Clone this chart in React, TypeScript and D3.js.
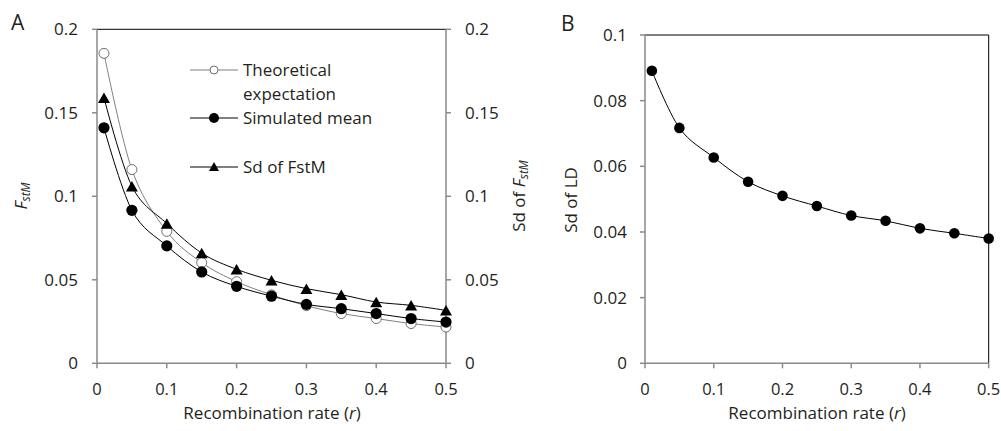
import React from "react";
import * as d3 from "d3";

const recombRates = [0.01, 0.05, 0.1, 0.15, 0.2, 0.25, 0.3, 0.35, 0.4, 0.45, 0.5];
const theoretical = [0.1856, 0.116, 0.079, 0.0603, 0.0489, 0.041, 0.0345, 0.0298, 0.0268, 0.0238, 0.0217];
const simulatedMean = [0.141, 0.0916, 0.0703, 0.0547, 0.0461, 0.0402, 0.0353, 0.0327, 0.0298, 0.0268, 0.0247];
const sdFstM = [0.159, 0.106, 0.0837, 0.066, 0.0563, 0.0497, 0.0447, 0.0411, 0.0367, 0.0347, 0.0317];
const sdLD = [0.0891, 0.0717, 0.0627, 0.0553, 0.051, 0.0479, 0.045, 0.0434, 0.0411, 0.0396, 0.038];

const xTicks = [0, 0.1, 0.2, 0.3, 0.4, 0.5];
const yTicksA = [0, 0.05, 0.1, 0.15, 0.2];
const yTicksB = [0, 0.02, 0.04, 0.06, 0.08, 0.1];

const FONT = "'Open Sans', Lato, sans-serif";
const TXT = "#231f20";
const AXIS = "#8a8a8a";
const FS = 17;
const XFS = 16.5;

function fmt(v: number) {
  if (v === 0) return "0";
  return String(+v.toFixed(3));
}

function triPath(cx: number, cy: number, w: number, h: number) {
  return `M${cx},${cy - h / 2}L${cx + w / 2},${cy + h / 2}L${cx - w / 2},${cy + h / 2}Z`;
}

export default function App() {
  // Panel A geometry
  const aL = 97, aR = 446, aT = 29.3, aB = 363.3;
  const xA = d3.scaleLinear().domain([0, 0.5]).range([aL, aR]);
  const yA = d3.scaleLinear().domain([0, 0.2]).range([aB, aT]);
  // Panel B geometry
  const bL = 645, bR = 988.7, bT = 35, bB = 363.3;
  const xB = d3.scaleLinear().domain([0, 0.5]).range([bL, bR]);
  const yB = d3.scaleLinear().domain([0, 0.1]).range([bB, bT]);

  const curve = d3.curveCatmullRom.alpha(0);
  const lineA = (vals: number[]) =>
    d3.line<number>().x((_, i) => xA(recombRates[i])).y((d) => yA(d)).curve(curve)(vals) || "";
  const lineB = (vals: number[]) =>
    d3.line<number>().x((_, i) => xB(recombRates[i])).y((d) => yB(d)).curve(curve)(vals) || "";

  const capHalf = FS * 0.36;
  const xTickY = 395;
  const xTitleY = 418.5;

  return (
    <div style={{ position: "absolute", left: 0, top: 0 }}>
      <svg width={1001} height={431} style={{ display: "block", background: "#fff" }} fontFamily={FONT}>
        <rect x={0} y={0} width={1001} height={431} fill="#fff" />
        {/* ===== Panel A ===== */}
        <text x={11} y={30} fontSize={21} fill={TXT}>A</text>
        {/* frame */}
        <line x1={aL} x2={aR} y1={aT} y2={aT} stroke="#000" strokeWidth={1} />
        <line x1={aL} x2={aL} y1={aT} y2={aB} stroke={AXIS} strokeWidth={1.5} />
        <line x1={aR} x2={aR} y1={aT} y2={aB} stroke={AXIS} strokeWidth={1.5} />
        <line x1={aL} x2={aR} y1={aB} y2={aB} stroke={AXIS} strokeWidth={1.5} />
        {yTicksA.map((t) => (
          <g key={"ya" + t}>
            <line x1={aL - 5} x2={aL} y1={yA(t)} y2={yA(t)} stroke={AXIS} strokeWidth={1.5} />
            <text x={78} y={yA(t) + capHalf} textAnchor="end" fontSize={FS} fill={TXT}>{fmt(t)}</text>
            <line x1={aR} x2={aR + 5} y1={yA(t)} y2={yA(t)} stroke={AXIS} strokeWidth={1.5} />
            <text x={465} y={yA(t) + capHalf} textAnchor="start" fontSize={FS} fill={TXT}>{fmt(t)}</text>
          </g>
        ))}
        {xTicks.map((t) => (
          <g key={"xa" + t}>
            <line x1={xA(t)} x2={xA(t)} y1={aB} y2={aB + 5} stroke={AXIS} strokeWidth={1.5} />
            <text x={xA(t)} y={xTickY} textAnchor="middle" fontSize={XFS} fill={TXT}>{fmt(t)}</text>
          </g>
        ))}
        <text x={272} y={xTitleY} textAnchor="middle" fontSize={FS} fill={TXT}>
          Recombination rate (<tspan fontStyle="italic">r</tspan>)
        </text>
        <text transform={`translate(27,196) rotate(-90)`} textAnchor="middle" fontSize={FS} fill={TXT}>
          <tspan fontStyle="italic">F</tspan>
          <tspan fontStyle="italic" fontSize={FS * 0.7} dy={3}>stM</tspan>
        </text>
        <text transform={`translate(525,196) rotate(-90)`} textAnchor="middle" fontSize={FS} fill={TXT}>
          Sd of <tspan fontStyle="italic">F</tspan>
          <tspan fontStyle="italic" fontSize={FS * 0.7} dy={3}>stM</tspan>
        </text>
        {/* series lines */}
        <path d={lineA(theoretical)} fill="none" stroke="#7f7f7f" strokeWidth={1} />
        <path d={lineA(sdFstM)} fill="none" stroke="#000" strokeWidth={1} />
        <path d={lineA(simulatedMean)} fill="none" stroke="#000" strokeWidth={1} />
        {/* markers */}
        {theoretical.map((v, i) => (
          <circle key={"th" + i} cx={xA(recombRates[i])} cy={yA(v)} r={5} fill="#fff" stroke="#6e6e6e" strokeWidth={1} />
        ))}
        {sdFstM.map((v, i) => (
          <path key={"sd" + i} d={triPath(xA(recombRates[i]), yA(v), 12, 10.5)} fill="#000" />
        ))}
        {simulatedMean.map((v, i) => (
          <circle key={"sm" + i} cx={xA(recombRates[i])} cy={yA(v)} r={5.6} fill="#000" />
        ))}
        {/* legend */}
        <g>
          <line x1={190} x2={238} y1={70} y2={70} stroke="#7f7f7f" strokeWidth={1} />
          <circle cx={214} cy={70} r={4} fill="#fff" stroke="#6e6e6e" strokeWidth={1} />
          <text x={243} y={70 + capHalf} fontSize={FS} fill={TXT}>Theoretical</text>
          <text x={243} y={94 + capHalf} fontSize={FS} fill={TXT}>expectation</text>
          <line x1={190} x2={238} y1={118} y2={118} stroke="#000" strokeWidth={1} />
          <circle cx={214} cy={118} r={5} fill="#000" />
          <text x={243} y={118 + capHalf} fontSize={FS} fill={TXT}>Simulated mean</text>
          <line x1={190} x2={238} y1={167} y2={167} stroke="#000" strokeWidth={1} />
          <path d={triPath(214, 166.5, 10, 9)} fill="#000" />
          <text x={243} y={167 + capHalf} fontSize={FS} fill={TXT}>Sd of FstM</text>
        </g>

        {/* ===== Panel B ===== */}
        <text x={561} y={30.5} fontSize={21} fill={TXT}>B</text>
        <line x1={bL} x2={bR} y1={bT} y2={bT} stroke="#000" strokeWidth={1} />
        <line x1={bR} x2={bR} y1={bT} y2={bB} stroke="#000" strokeWidth={1} />
        <line x1={bL} x2={bL} y1={bT} y2={bB} stroke={AXIS} strokeWidth={1.5} />
        <line x1={bL} x2={bR} y1={bB} y2={bB} stroke={AXIS} strokeWidth={1.5} />
        {yTicksB.map((t) => (
          <g key={"yb" + t}>
            <line x1={bL - 5} x2={bL} y1={yB(t)} y2={yB(t)} stroke={AXIS} strokeWidth={1.5} />
            <text x={627} y={yB(t) + capHalf} textAnchor="end" fontSize={FS} fill={TXT}>{fmt(t)}</text>
          </g>
        ))}
        {xTicks.map((t) => (
          <g key={"xb" + t}>
            <line x1={xB(t)} x2={xB(t)} y1={bB} y2={bB + 5} stroke={AXIS} strokeWidth={1.5} />
            <text x={xB(t)} y={xTickY} textAnchor="middle" fontSize={XFS} fill={TXT}>{fmt(t)}</text>
          </g>
        ))}
        <text x={817} y={xTitleY} textAnchor="middle" fontSize={FS} fill={TXT}>
          Recombination rate (<tspan fontStyle="italic">r</tspan>)
        </text>
        <text transform={`translate(577,200) rotate(-90)`} textAnchor="middle" fontSize={FS} fill={TXT}>
          Sd of LD
        </text>
        <path d={lineB(sdLD)} fill="none" stroke="#000" strokeWidth={1} />
        {sdLD.map((v, i) => (
          <circle key={"ld" + i} cx={xB(recombRates[i])} cy={yB(v)} r={5.3} fill="#000" />
        ))}
      </svg>
    </div>
  );
}
